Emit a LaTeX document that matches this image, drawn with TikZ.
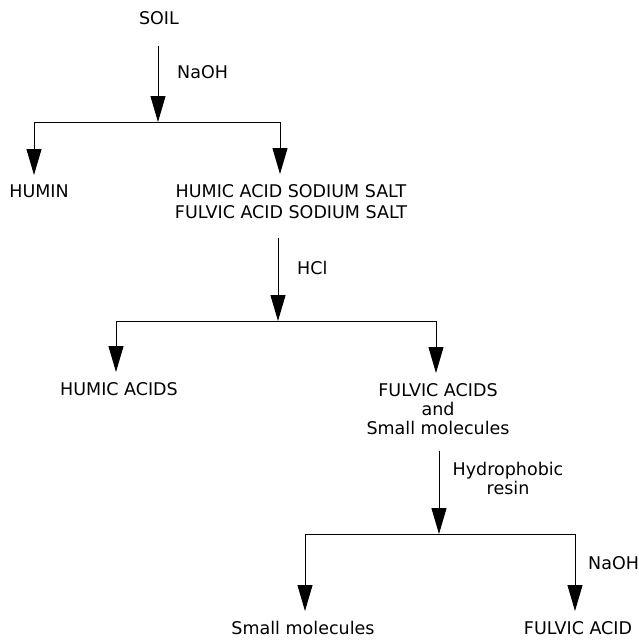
\documentclass[tikz,border=0pt]{standalone}
\usepackage{fontspec}
\setmainfont{DejaVu Sans}
\usepackage{tikz}
\usetikzlibrary{arrows.meta}
\tikzset{
  txt/.style = {inner sep = 0pt, align = center, font = \fontsize{17.5}{21}\selectfont},
  flow/.style = {line width = 1pt, -{Triangle[length = 26pt, width = 15pt]}},
  drop/.style = {flow, shorten > = 10pt},
  bar/.style = {line width = 1pt}
}

\begin{document}
\begin{tikzpicture}[x = 1pt, y = -1pt]
			\useasboundingbox (0,0) rectangle (638,640);
			\node (soil) at (159,11) [txt, anchor = north] {SOIL};
			\node (naoh1) at (177,72) [txt, anchor = west] {NaOH};
			\coordinate (j1) at (158,122);
			\coordinate (b1l) at (34,122);
			\coordinate (b1r) at (280,122);
			\node (humin) at (39,185) [txt, anchor = north] {HUMIN};
			\node (salts) at (291,184) [txt, anchor = north] {HUMIC ACID SODIUM SALT\\FULVIC ACID SODIUM SALT};
			\node (hcl) at (297,268) [txt, anchor = west] {HCl};
			\coordinate (j2) at (278,321);
			\coordinate (b2l) at (116,321);
			\coordinate (b2r) at (436,321);
			\node (humacids) at (119,382) [txt, anchor = north] {HUMIC ACIDS};
			\node (fulvic) at (438,383) [txt, anchor = north, font = \fontsize{17.5}{19}\selectfont] {FULVIC ACIDS\\and\\Small molecules};
			\node (resin) at (508,462) [txt, anchor = north, font = \fontsize{17.5}{19}\selectfont] {Hydrophobic\\resin};
			\coordinate (j3) at (439,534);
			\coordinate (b3l) at (305,534);
			\coordinate (b3r) at (575,534);
			\node (naoh2) at (588,563) [txt, anchor = west] {NaOH};
			\node (small) at (303,621) [txt, anchor = north] {Small molecules};
			\node (fulvicacid) at (578,621) [txt, anchor = north] {FULVIC ACID};
			% first split
			\draw[flow, shorten < = 21pt] (j1 |- soil.south) -- (j1);
			\draw[bar] (b1l) -- (b1r);
			\draw[drop] (b1l) -- (b1l |- humin.north);
			\draw[drop] (b1r) -- (b1r |- salts.north);
			% second split
			\draw[flow, shorten < = 19pt] (j2 |- salts.south) -- (j2);
			\draw[bar] (b2l) -- (b2r);
			\draw[drop] (b2l) -- (b2l |- humacids.north);
			\draw[drop] (b2r) -- (b2r |- fulvic.north);
			% third split
			\draw[flow, shorten < = 16pt] (j3 |- fulvic.south) -- (j3);
			\draw[bar] (b3l) -- (b3r);
			\draw[drop] (b3l) -- (b3l |- small.north);
			\draw[drop] (b3r) -- (b3r |- fulvicacid.north);
\end{tikzpicture}
\end{document}
